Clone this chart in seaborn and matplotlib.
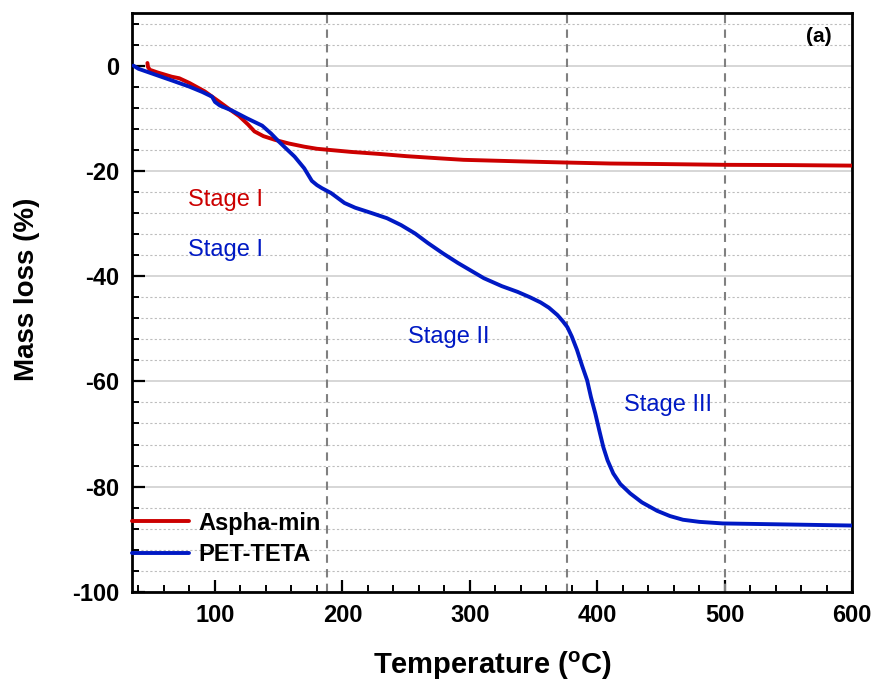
import pandas as pd
import matplotlib
matplotlib.use("Agg")
import matplotlib.pyplot as plt
import seaborn as sns
from matplotlib.ticker import MultipleLocator

# ---------- DATA ----------
aspha_temp = [47, 47.5, 49, 55, 66, 72, 80, 92, 103, 112, 119, 126, 131, 138, 147,
              158, 170, 180, 189, 207, 230, 250, 275, 295, 340, 373, 410, 450, 500,
              550, 600]
aspha_mass = [0.5, -0.3, -0.8, -1.3, -2.1, -2.4, -3.3, -4.9, -6.8, -8.4, -9.6, -11.2,
              -12.5, -13.4, -14.1, -14.8, -15.4, -15.8, -16.0, -16.4, -16.8, -17.2,
              -17.6, -17.9, -18.2, -18.4, -18.6, -18.7, -18.85, -18.9, -19.0]

pet_temp = [36, 40, 53, 66, 80, 90, 97.7, 100, 104, 113, 125, 137, 144, 150, 156,
            162.5, 170, 176, 180, 184, 191, 201.6, 210, 222.7, 235, 246, 257, 267,
            279, 290.6, 311, 325, 337.5, 347, 355.5, 362, 368.7, 373, 376.5, 380,
            384, 388, 392, 395, 398.4, 401.5, 404.7, 408, 412.5, 418, 425.8, 435,
            446.9, 457, 467.2, 480, 498.4, 550, 600]
pet_mass = [0.0, -0.6, -1.7, -2.8, -4.0, -5.0, -5.9, -6.9, -7.6, -8.5, -10.0, -11.4,
            -12.9, -14.4, -15.8, -17.3, -19.5, -21.9, -22.7, -23.3, -24.2, -26.1,
            -27.0, -28.0, -29.0, -30.3, -31.9, -33.7, -35.7, -37.5, -40.4, -41.9,
            -43.0, -44.0, -45.0, -46.0, -47.4, -48.6, -49.7, -51.5, -54.0, -57.0,
            -59.8, -63.0, -66.1, -69.3, -72.5, -75.0, -77.5, -79.5, -81.3, -83.0,
            -84.6, -85.6, -86.3, -86.7, -87.0, -87.2, -87.4]

stage_lines = [188, 376, 500]
stage_labels = ["Stage I", "Stage I", "Stage II", "Stage III"]
stage_x = [108.6, 108.6, 283.6, 455.5]
stage_y = [-25.5, -35.0, -51.6, -64.4]

RED = "#CC0000"
BLUE = "#0019C4"
stage_colors = [RED, BLUE, BLUE, BLUE]

# ---------- PLOT ----------
sns.set_style("white")
plt.rcParams["font.family"] = ["Liberation Sans", "DejaVu Sans"]
plt.rcParams["mathtext.fontset"] = "custom"
plt.rcParams["mathtext.bf"] = "Liberation Sans:bold"
plt.rcParams["mathtext.rm"] = "Liberation Sans"
plt.rcParams["axes.unicode_minus"] = False
plt.rcParams["text.color"] = "black"
plt.rcParams["axes.labelcolor"] = "black"
plt.rcParams["xtick.color"] = "black"
plt.rcParams["ytick.color"] = "black"

df_a = pd.DataFrame({"T": aspha_temp, "M": aspha_mass})
df_p = pd.DataFrame({"T": pet_temp, "M": pet_mass})

fig = plt.figure(figsize=(8.75, 6.85), dpi=100)
ax = fig.add_axes([0.151, 0.136, 0.823, 0.845])

ax.set_xlim(35, 600)
ax.set_ylim(-100, 10)
ax.xaxis.set_major_locator(MultipleLocator(100))
ax.xaxis.set_minor_locator(MultipleLocator(20))
ax.yaxis.set_major_locator(MultipleLocator(20))
ax.yaxis.set_minor_locator(MultipleLocator(4))

ax.grid(which="major", axis="y", color="#cfcfcf", lw=1.2, ls="-")
ax.grid(which="minor", axis="y", color="#bdbdbd", lw=0.8, ls=(0, (2, 2)))
ax.grid(which="major", axis="x", visible=False)
ax.set_axisbelow(True)

for xv in stage_lines:
    ax.axvline(xv, color="#808080", lw=1.5, ls=(0, (4, 3)), zorder=1)

sns.lineplot(data=df_a, x="T", y="M", sort=False, color=RED, lw=2.8,
             label="Aspha-min", ax=ax, zorder=3)
sns.lineplot(data=df_p, x="T", y="M", sort=False, color=BLUE, lw=2.8,
             label="PET-TETA", ax=ax, zorder=4)

for lab, xs, ys, c in zip(stage_labels, stage_x, stage_y, stage_colors):
    ax.text(xs, ys, lab, color=c, fontsize=17, ha="center", va="center")

ax.text(574, 5.6, "(a)", fontsize=15, fontweight="bold", ha="center", va="center")

for sp in ax.spines.values():
    sp.set_color("black")
    sp.set_linewidth(2)

ax.tick_params(which="major", direction="in", length=9, width=1.6,
               labelsize=17, pad=9, left=True, bottom=True)
ax.tick_params(which="minor", direction="in", length=5, width=1.4,
               left=True, bottom=True)
for t in ax.get_xticklabels() + ax.get_yticklabels():
    t.set_fontweight("bold")

ax.set_xlabel("Temperature ($\\mathbf{^{o}}$C)", fontsize=21, fontweight="bold", labelpad=16)
ax.set_ylabel("Mass loss (%)", fontsize=20, fontweight="bold")
ax.yaxis.set_label_coords(-0.128, 0.523)

leg = ax.legend(loc="lower left", bbox_to_anchor=(0.0, 0.045), frameon=False,
                borderaxespad=0, borderpad=0, handlelength=2.4, handletextpad=0.4,
                labelspacing=0.35, prop={"weight": "bold", "size": 17})
for line in leg.get_lines():
    line.set_linewidth(2.8)

fig.savefig("out.png", dpi=100)
